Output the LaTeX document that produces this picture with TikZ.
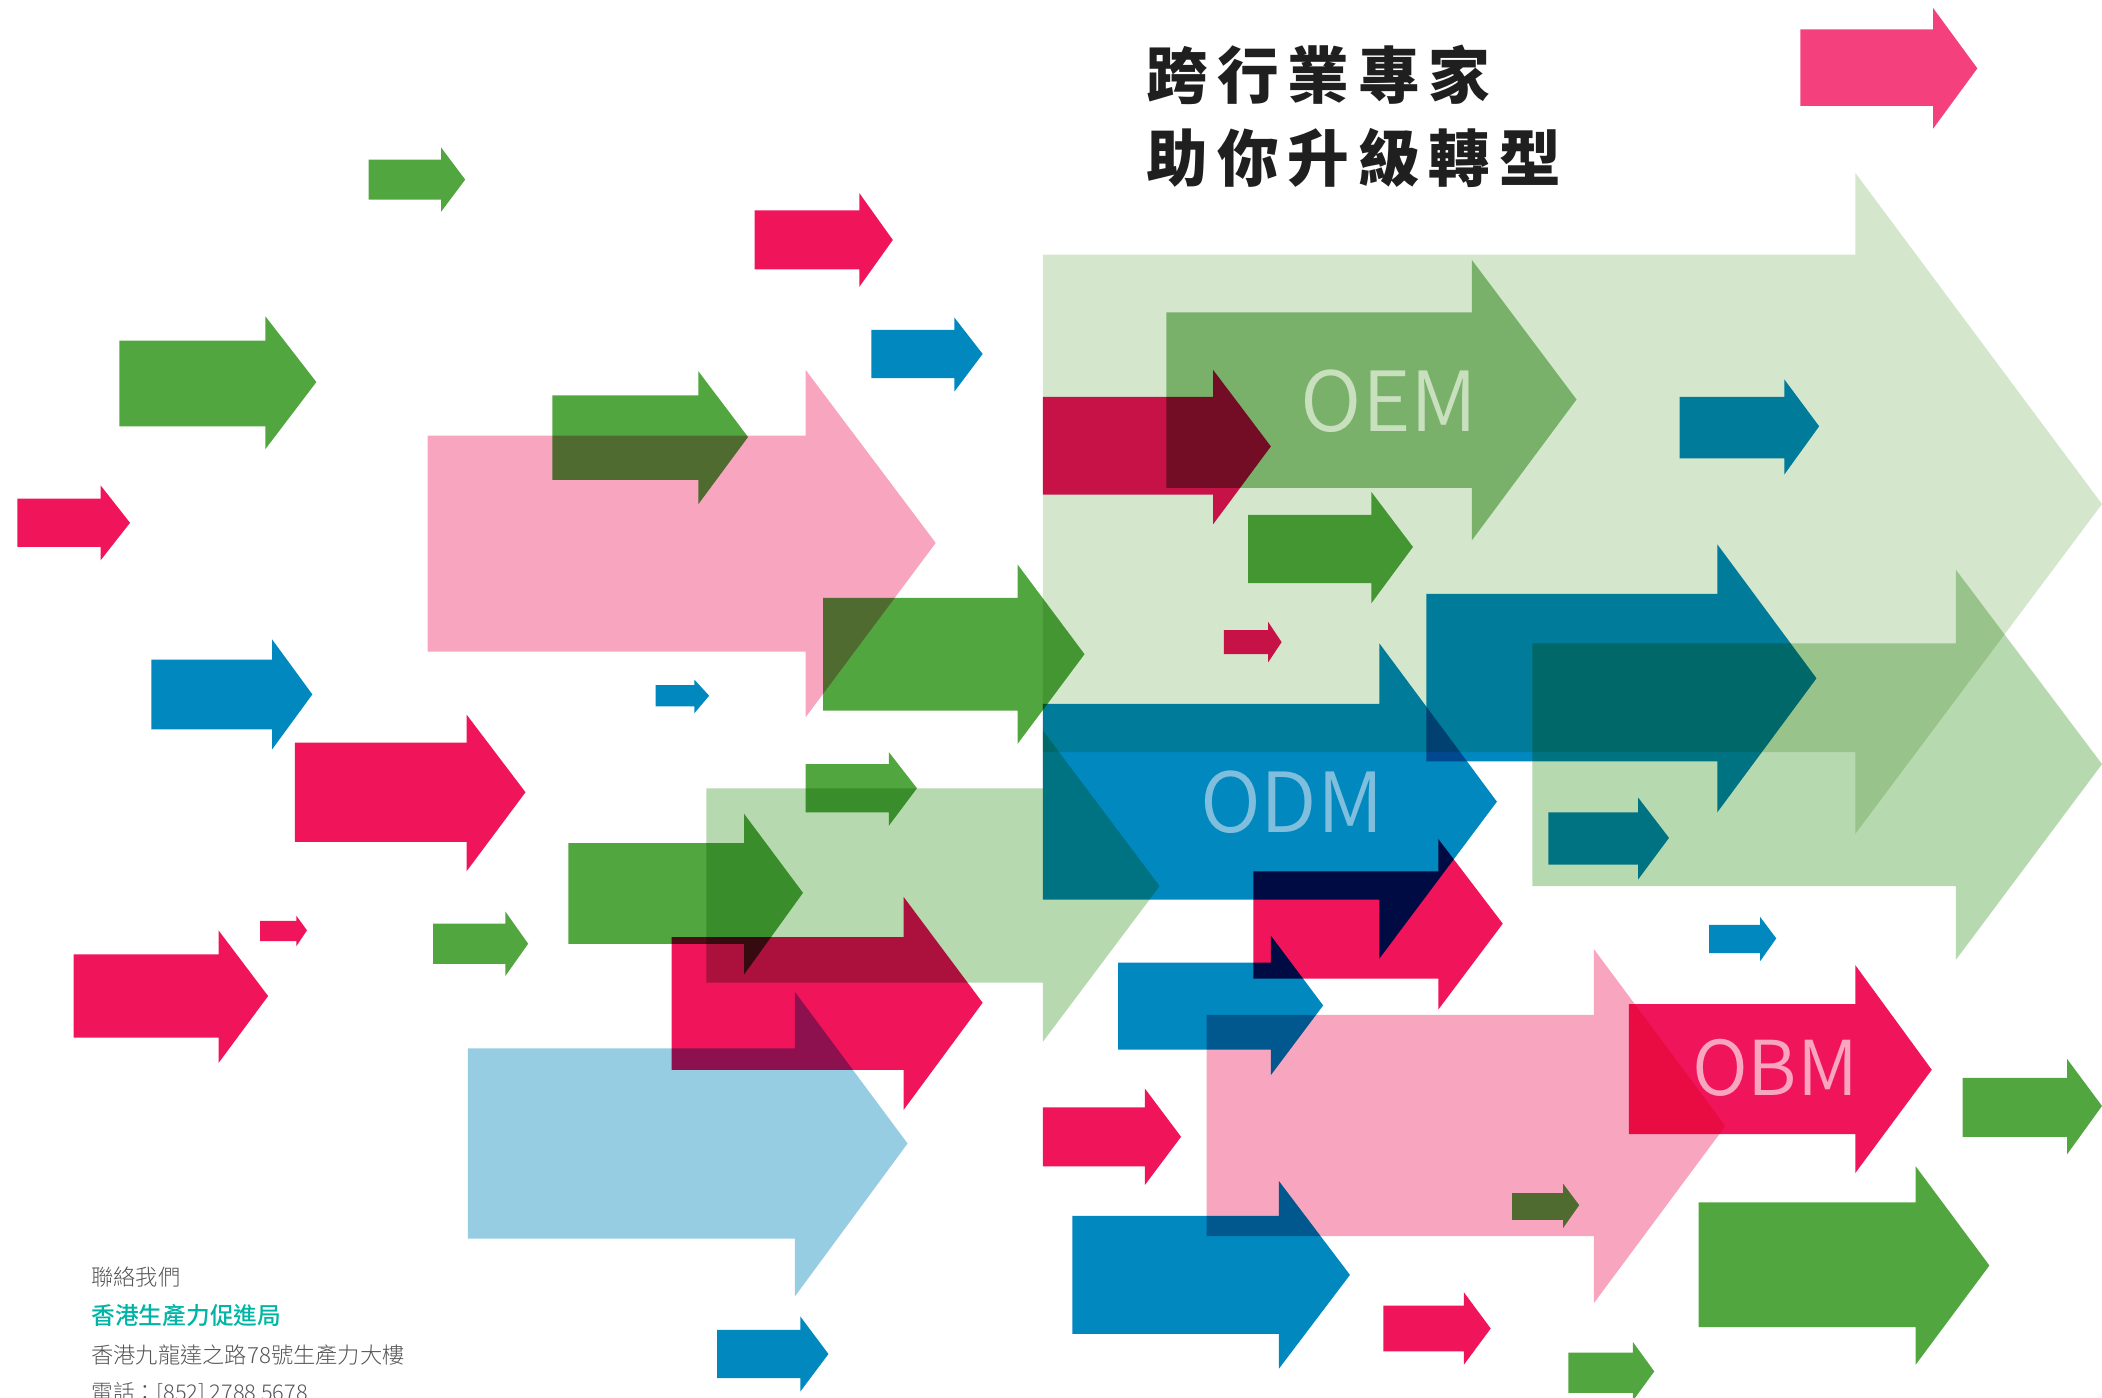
\documentclass[tikz,border=0pt]{standalone}
\usepackage{fontspec}
\usepackage{graphicx}
\newfontfamily\cjkblack[LetterSpace=14.5]{Noto Sans CJK TC Black}
\newfontfamily\cjklight{Noto Sans CJK TC Light}
\newfontfamily\cjkdemi{Noto Sans CJK TC DemiLight}
\newfontfamily\cjkmed{Noto Sans CJK TC Medium}
\definecolor{grn}{HTML}{52A63F}
\definecolor{mag}{HTML}{F0145A}
\definecolor{blu}{HTML}{0088BF}
\definecolor{ltgrn}{HTML}{D4E7CD}
\definecolor{midgrn}{HTML}{B7D9AF}
\definecolor{olv}{HTML}{93C484}
\definecolor{pnk}{HTML}{F8A5BF}
\definecolor{hotpnk}{HTML}{F4417E}
\definecolor{ltblu}{HTML}{96CDE2}
\definecolor{teal}{HTML}{00B5A5}
\definecolor{txtgray}{HTML}{555555}
\definecolor{oemtxt}{HTML}{C8E0BE}
\definecolor{odmtxt}{HTML}{7FBFDD}
\newcommand{\arw}[9]{\fill[#1] (#2,#3) -- (#5,#3) -- (#5,#6) -- (#8,#9) -- (#5,#7) -- (#5,#4) -- (#2,#4) -- cycle;}
\tikzset{
  biglabel/.style={anchor=south west,inner sep=0pt},
  smalltxt/.style={anchor=west,inner sep=0pt,font=\cjklight\fontsize{16.6}{18}\selectfont,text=txtgray},
  headtxt/.style={anchor=west,inner sep=0pt,font=\cjkblack\fontsize{46}{50}\selectfont,text=black!88}
}
\begin{document}
\begin{tikzpicture}[x=1pt,y=-1pt]
\useasboundingbox (0,0) rectangle (1568,1042.8);
\begin{scope}[blend mode=multiply]
\arw{ltgrn}{778}{190}{561}{1384}{129}{622}{1568}{376}
\arw{midgrn}{1143}{480}{661}{1459}{425}{716}{1568}{570}
\arw{midgrn}{527}{588}{733}{778}{545}{777}{865}{661}
\arw{pnk}{319}{325}{486}{601}{276}{535}{698}{405}
\arw{pnk}{900}{757}{922}{1189}{708}{972}{1287}{840}
\arw{ltblu}{349}{782}{924}{593}{740}{967}{677}{853}
\arw{olv}{870}{233}{364}{1098}{194}{403}{1176}{298}
\arw{hotpnk}{1343}{22}{79}{1442}{6}{96}{1475}{51}
\arw{grn}{275}{119}{149}{329}{110}{158}{347}{134}
\arw{mag}{563}{157}{201}{641}{144}{214}{666}{179}
\arw{blu}{650}{246}{282}{712}{237}{292}{733}{264}
\arw{grn}{89}{254}{318}{198}{236}{335}{236}{285}
\arw{grn}{412}{295}{358}{521}{277}{376}{558}{326}
\arw{mag}{13}{372}{408}{75}{362}{418}{97}{390}
\arw{blu}{113}{492}{544}{203}{477}{559}{233}{518}
\arw{mag}{220}{554}{628}{348}{533}{650}{392}{591}
\arw{blu}{489}{511}{527}{518}{507}{532}{529}{519}
\arw{grn}{614}{446}{530}{759}{421}{555}{809}{488}
\arw{mag}{778}{296}{369}{905}{276}{391}{948}{333}
\arw{grn}{931}{384}{435}{1023}{367}{450}{1054}{408}
\arw{blu}{1253}{296}{342}{1331}{283}{354}{1357}{318}
\arw{mag}{913}{470}{488}{946}{464}{494}{956}{479}
\arw{blu}{778}{525}{671}{1029}{480}{715}{1116.6}{598}
\arw{blu}{1064}{443}{568}{1281}{406}{606}{1355}{506}
\arw{blu}{1155}{606}{645}{1222}{595}{656}{1245}{625}
\arw{grn}{601}{570}{606}{663}{561}{616}{684}{588}
\arw{grn}{424}{629}{704}{555}{607}{727}{599}{666}
\arw{mag}{501}{699}{798}{674}{669}{828}{733}{748}
\arw{mag}{194}{687}{702}{221}{683}{706}{229}{694}
\arw{grn}{323}{689}{719}{377}{680}{728}{394}{704}
\arw{mag}{55}{712}{774}{163}{694}{793}{200}{743}
\arw{blu}{535}{992}{1028}{597}{982}{1038}{618}{1010}
\arw{mag}{935}{650}{730}{1073}{626}{753}{1121}{689}
\arw{blu}{834}{718}{783}{948}{698}{802}{987}{750}
\arw{mag}{778}{826}{870}{854}{812}{884}{881}{848}
\arw{blu}{800}{907}{995}{954}{881}{1021}{1007}{951}
\arw{grn}{1128}{890}{910}{1166}{883}{916}{1178}{899}
\arw{mag}{1215}{749}{846}{1384}{720}{875}{1441}{798}
\arw{blu}{1275}{690}{711}{1313}{684}{717}{1325}{700}
\arw{grn}{1464}{804}{848}{1542}{790}{861}{1568}{825}
\arw{grn}{1267}{897}{990}{1429}{870}{1018}{1484}{944}
\arw{mag}{1032}{974}{1008}{1092}{964}{1018}{1112}{991}
\arw{grn}{1170}{1009}{1039}{1218}{1001}{1045}{1234}{1023}
\end{scope}
\node[biglabel,text=oemtxt] (oem) at (970,323) {\resizebox{132pt}{46pt}{\cjkdemi OEM}};
\node[biglabel,text=odmtxt] (odm) at (895,622) {\resizebox{137pt}{46pt}{\cjkdemi ODM}};
\node[biglabel,text=pnk] (obm) at (1262,818) {\resizebox{124pt}{42pt}{\cjkdemi OBM}};
\node[headtxt] (h1) at (855,56) {跨行業專家};
\node[headtxt] (h2) at (855,118) {助你升級轉型};
\node[smalltxt] (t1) at (68,953) {聯絡我們};
\node[smalltxt,font=\cjkmed\fontsize{17.7}{19}\selectfont,text=teal] (t2) at (68,981) {香港生產力促進局};
\node[smalltxt] (t3) at (68,1011) {香港九龍達之路78號生產力大樓};
\node[smalltxt,font=\cjklight\fontsize{16.2}{18}\selectfont] (t4) at (68,1039) {電話：[852] 2788 5678};
\end{tikzpicture}
\end{document}
